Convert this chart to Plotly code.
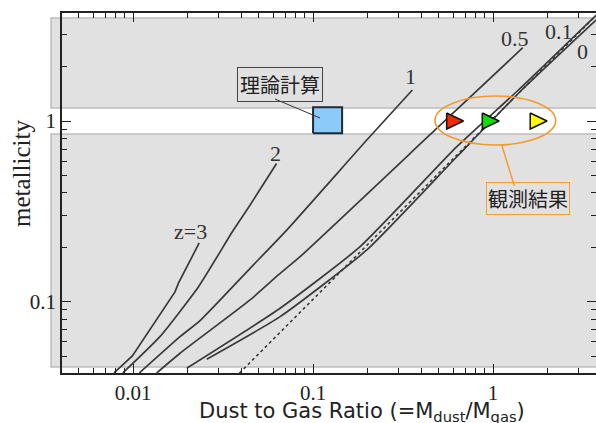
import plotly.graph_objects as go

# ---- data ----
dgr_z3 = [0.00784, 0.00991, 0.0171, 0.0179, 0.0233]
met_z3 = [0.0403, 0.0501, 0.1132, 0.1269, 0.2113]

dgr_z2 = [0.00877, 0.0141, 0.0231, 0.0361, 0.0447, 0.0627]
met_z2 = [0.0403, 0.064, 0.121, 0.249, 0.343, 0.582]

dgr_z1 = [0.01084, 0.01824, 0.02356, 0.0447, 0.0714, 0.200, 0.356]
met_z1 = [0.0403, 0.064, 0.0785, 0.153, 0.249, 0.790, 1.484]

dgr_z05 = [0.01354, 0.01824, 0.0447, 0.0641, 0.0847, 0.4763, 1.462]
met_z05 = [0.0403, 0.0518, 0.1022, 0.1405, 0.1775, 0.892, 2.545]

dgr_z01 = [0.01987, 0.0656, 0.1825, 0.6286, 1.382, 3.73]
met_z01 = [0.0428, 0.0919, 0.2016, 0.7208, 1.485, 3.85]

dgr_z0 = [0.02567, 0.0656, 0.1987, 0.6286, 1.443, 3.73]
met_z0 = [0.048, 0.0826, 0.1932, 0.6344, 1.485, 3.62]

dgr_dotted = [0.039, 3.8]
met_dotted = [0.0402, 3.91]

theory_dgr = [0.1, 0.145]
theory_met = [0.855, 1.19]

obs_dgr = [0.615, 0.97, 1.79]
obs_met = [1.0, 1.0, 1.0]
obs_colors = ["#f52a00", "#11dd00", "#ffff00"]

x_tickvals = [0.01, 0.1, 1]
x_ticktext = ["0.01", "0.1", "1"]
y_tickvals = [0.1, 1]
y_ticktext = ["0.1", "1"]

curve_labels = ["z=3", "2", "1", "0.5", "0.1", "0"]

# ---- figure ----
W, H = 596, 423
ML, MR, MT, MB = 62, 0, 13, 50
PW, PH = W - ML - MR, H - MT - MB


def px(xp):
    return (xp - ML) / PW


def py(yp):
    return (H - MB - yp) / PH


LINE = "#3a3a3a"
SERIF = "Liberation Serif"
SANS = "Noto Sans CJK JP"

fig = go.Figure()

curves = [(dgr_z3, met_z3, "linear"), (dgr_z2, met_z2, "spline"), (dgr_z1, met_z1, "spline"),
          (dgr_z05, met_z05, "spline"), (dgr_z01, met_z01, "spline"), (dgr_z0, met_z0, "spline")]
for xs, ys, shp in curves:
    fig.add_trace(go.Scatter(x=xs, y=ys, mode="lines",
                             line=dict(color=LINE, width=1.7, shape=shp, smoothing=0.5),
                             showlegend=False, hoverinfo="skip"))

fig.add_trace(go.Scatter(x=dgr_dotted, y=met_dotted, mode="lines",
                         line=dict(color=LINE, width=1.6, dash="dot"),
                         showlegend=False, hoverinfo="skip"))

# theory box
fig.add_trace(go.Scatter(
    x=[theory_dgr[0], theory_dgr[1], theory_dgr[1], theory_dgr[0], theory_dgr[0]],
    y=[theory_met[0], theory_met[0], theory_met[1], theory_met[1], theory_met[0]],
    mode="lines", fill="toself", fillcolor="#8ccafa",
    line=dict(color="#1e2a36", width=2), showlegend=False, hoverinfo="skip"))

# observation triangles
hw = 10 ** 0.0467
hh = 10 ** 0.0443
for xv, yv, c in zip(obs_dgr, obs_met, obs_colors):
    fig.add_trace(go.Scatter(
        x=[xv / hw, xv * hw, xv / hw, xv / hw],
        y=[yv * hh, yv, yv / hh, yv * hh],
        mode="lines", fill="toself", fillcolor=c,
        line=dict(color="#111111", width=1.5), showlegend=False, hoverinfo="skip"))

shapes = [
    dict(type="rect", xref="paper", yref="paper", x0=px(51), x1=1.05,
         y0=py(108), y1=py(18), fillcolor="#e1e1e1",
         line=dict(color="#bdbdbd", width=1.5), layer="below"),
    dict(type="rect", xref="paper", yref="paper", x0=px(51), x1=1.05,
         y0=py(367), y1=py(134), fillcolor="#e1e1e1",
         line=dict(color="#bdbdbd", width=1.5), layer="below"),
    dict(type="circle", xref="paper", yref="paper", x0=px(435), x1=px(555.7),
         y0=py(145), y1=py(96), line=dict(color="#f59a2a", width=1.6)),
    dict(type="line", xref="paper", yref="paper", x0=px(501.7), y0=py(145),
         x1=px(514.3), y1=py(185.7), line=dict(color="#f59a2a", width=1.4)),
    dict(type="line", xref="paper", yref="paper", x0=px(275), y0=py(99),
         x1=px(320), y1=py(118), line=dict(color="#333333", width=1)),
]

CENTER = dict(xref="paper", yref="paper", showarrow=False, xanchor="center", yanchor="middle")

label_pos = [(190.7, 231.7), (275, 153.3), (410, 76.7), (515, 38.3), (559.3, 31.7), (582.7, 51.7)]
annotations = []
for t, (xp, yp) in zip(curve_labels, label_pos):
    annotations.append(dict(CENTER, text=t, x=px(xp), y=py(yp),
                            font=dict(family=SERIF, size=22, color="#333333")))

annotations += [
    dict(CENTER, text="理論計算", x=px(280), y=py(84.5),
         font=dict(family=SANS, size=20, color="#222222"), bordercolor="#444444",
         borderwidth=1, borderpad=2),
    dict(CENTER, text="観測結果", x=px(528), y=py(199),
         font=dict(family=SANS, size=20, color="#222222"), bordercolor="#f5a030",
         borderwidth=1, borderpad=1),
    dict(CENTER, text="Dust to Gas Ratio (=M<sub>dust</sub>/M<sub>gas</sub>)",
         x=px(362), y=py(411.5),
         font=dict(family="DejaVu Sans", size=21, color="#222222")),
    dict(CENTER, text="metallicity", x=px(21), y=py(174),
         textangle=-90, font=dict(family=SERIF, size=25, color="#222222")),
]

axis_common = dict(type="log", showgrid=False, zeroline=False, showline=True,
                   linecolor="#222222", linewidth=1.5, mirror="allticks",
                   ticks="inside", ticklen=9, tickwidth=1.2, tickcolor="#222222",
                   tickmode="array", automargin=False,
                   minor=dict(ticks="inside", ticklen=5, tickwidth=1, tickcolor="#222222",
                              dtick="D1", showgrid=False),
                   tickfont=dict(family=SERIF, size=21, color="#222222"))

fig.update_layout(
    width=W, height=H,
    margin=dict(l=ML, r=MR, t=MT, b=MB),
    paper_bgcolor="white", plot_bgcolor="rgba(0,0,0,0)",
    showlegend=False,
    shapes=shapes, annotations=annotations,
    xaxis=dict(axis_common, range=[-2.3947, 0.5717], tickvals=x_tickvals, ticktext=x_ticktext),
    yaxis=dict(axis_common, range=[-1.395, 0.598], tickvals=y_tickvals, ticktext=y_ticktext),
)

fig.write_html("out.html", config={"displayModeBar": False},
               post_script="document.body.style.margin='0';")
